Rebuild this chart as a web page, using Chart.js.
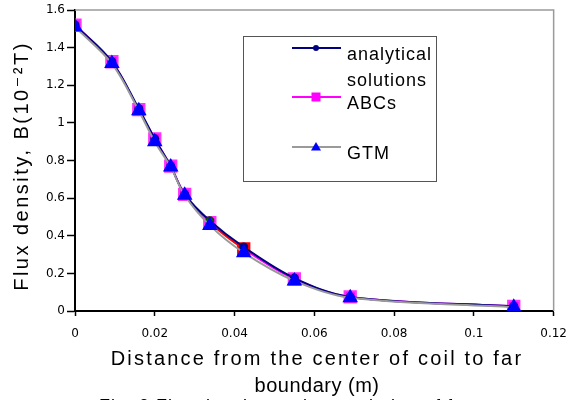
<!DOCTYPE html>
<html>
<head>
<meta charset="utf-8">
<script src="https://cdn.jsdelivr.net/npm/chart.js@4"></script>
<style>
  body { margin: 0; background: #fff; }
  #wrap { width: 578px; height: 400px; position: relative; }
</style>
</head>
<body>
<div id="wrap"><canvas id="fluxChart"></canvas></div>
<script>
// Distance from coil centre (m)
const distance = [0, 0.00925, 0.016, 0.02, 0.024, 0.0275, 0.0338, 0.0423, 0.055, 0.069, 0.11];
// Flux density B (10^-2 T)
const analytical = [1.52, 1.325, 1.075, 0.915, 0.77, 0.62, 0.48, 0.34, 0.175, 0.075, 0.025];
const abcs = [1.52, 1.325, 1.07, 0.915, 0.77, 0.62, 0.47, 0.33, 0.17, 0.075, 0.025];
const gtm = [1.51, 1.315, 1.065, 0.9, 0.765, 0.615, 0.455, 0.31, 0.16, 0.07, 0.02];

const xTicks = [0, 0.02, 0.04, 0.06, 0.08, 0.1, 0.12];
const yTicks = [0, 0.2, 0.4, 0.6, 0.8, 1, 1.2, 1.4, 1.6];

const legendItems = ['analytical solutions', 'ABCs', 'GTM'];
const xTitle = ['Distance from the center of coil to far', 'boundary (m)'];
const yTitle = 'Flux density, B(10⁻²T)';
const caption = 'Fig. 3 Flux density against variation of far';

function toPoints(ys) {
  return ys.map((y, i) => ({ x: distance[i], y: y }));
}

const FONT = '"Liberation Sans", "DejaVu Sans", sans-serif';

// frame, titles and legend drawn on the canvas
const decorations = {
  id: 'decorations',
  beforeDatasetsDraw(chart) {
    const { ctx, chartArea: a } = chart;
    ctx.save();
    ctx.strokeStyle = '#9a9a9a';
    ctx.lineWidth = 1.5;
    ctx.beginPath();
    ctx.moveTo(a.left, a.top);
    ctx.lineTo(a.right, a.top);
    ctx.lineTo(a.right, a.bottom);
    ctx.stroke();
    ctx.restore();
  },
  afterDraw(chart) {
    const { ctx } = chart;
    ctx.save();
    ctx.fillStyle = '#000';
    ctx.textAlign = 'center';
    ctx.textBaseline = 'middle';

    // axis titles
    ctx.font = '20px ' + FONT;
    ctx.letterSpacing = '2.2px';
    ctx.fillText(xTitle[0], 317, 359);
    ctx.letterSpacing = '0.5px';
    ctx.fillText(xTitle[1], 317, 386);
    ctx.font = '18px ' + FONT;
    ctx.letterSpacing = '1px';
    ctx.fillText(caption, 285, 407);

    ctx.save();
    ctx.translate(22, 166);
    ctx.rotate(-Math.PI / 2);
    ctx.font = '20px ' + FONT;
    ctx.letterSpacing = '2.5px';
    ctx.fillText(yTitle, 0, 0);
    ctx.restore();

    // legend box
    ctx.letterSpacing = '1px';
    ctx.strokeStyle = '#555';
    ctx.lineWidth = 1;
    ctx.strokeRect(243.5, 36.5, 193, 145);

    const rows = [
      { y: 48, color: '#000080', style: 'circle', fill: '#000080', r: 3, text: ['analytical', 'solutions'] },
      { y: 97, color: '#ff00ff', style: 'rect', fill: '#ff00ff', r: 6, text: [legendItems[1]] },
      { y: 147, color: '#9a9a9a', style: 'triangle', fill: '#0000ff', r: 5, text: [legendItems[2]] },
    ];
    ctx.textAlign = 'left';
    ctx.font = '18px ' + FONT;
    rows.forEach(row => {
      ctx.strokeStyle = row.color;
      ctx.lineWidth = 2;
      ctx.beginPath();
      ctx.moveTo(292, row.y);
      ctx.lineTo(341, row.y);
      ctx.stroke();
      ctx.fillStyle = row.fill;
      ctx.beginPath();
      if (row.style === 'circle') {
        ctx.arc(316, row.y, row.r, 0, Math.PI * 2);
      } else if (row.style === 'rect') {
        ctx.rect(316 - row.r * 0.75, row.y - row.r * 0.75, row.r * 1.5, row.r * 1.5);
      } else {
        ctx.moveTo(316, row.y - row.r);
        ctx.lineTo(316 + row.r, row.y + row.r * 0.7);
        ctx.lineTo(316 - row.r, row.y + row.r * 0.7);
        ctx.closePath();
      }
      ctx.fill();
      ctx.fillStyle = '#000';
      row.text.forEach((t, i) => ctx.fillText(t, 347, row.y + 7 + i * 26));
    });
    ctx.restore();
  }
};

function initializeChart() {
  const ctx = document.getElementById('fluxChart').getContext('2d');
  new Chart(ctx, {
    type: 'line',
    data: {
      datasets: [
        {
          label: legendItems[0],
          data: toPoints(analytical),
          borderColor: '#000080',
          borderWidth: 2,
          tension: 0.35,
          pointStyle: 'circle',
          pointRadius: 3.5,
          pointBackgroundColor: analytical.map((v, i) => i === 6 ? '#008000' : '#000080'),
          pointBorderColor: analytical.map((v, i) => i === 6 ? '#005000' : '#000080'),
          order: 2,
        },
        {
          label: legendItems[1],
          data: toPoints(abcs),
          borderColor: '#ff00ff',
          borderWidth: 2,
          tension: 0.35,
          pointStyle: 'rect',
          pointRadius: 8,
          pointBackgroundColor: abcs.map((v, i) => i === 7 ? '#ff0000' : '#ff00ff'),
          pointBorderColor: abcs.map((v, i) => i === 7 ? '#ff0000' : '#ff33ff'),
          segment: { borderColor: c => c.p0DataIndex === 6 ? '#ff0000' : undefined },
          order: 3,
        },
        {
          label: legendItems[2],
          data: toPoints(gtm),
          borderColor: '#9a9a9a',
          borderWidth: 2,
          tension: 0.35,
          pointStyle: 'triangle',
          pointRadius: 7,
          pointBackgroundColor: '#0000ff',
          pointBorderColor: '#0000ff',
          order: 1,
        },
      ],
    },
    options: {
      responsive: true,
      maintainAspectRatio: false,
      animation: false,
      layout: { padding: { top: 7, right: 23, left: 0, bottom: 0 } },
      plugins: { legend: { display: false }, tooltip: { enabled: false } },
      scales: {
        x: {
          type: 'linear',
          min: 0,
          max: 0.12,
          afterBuildTicks: s => { s.ticks = xTicks.map(v => ({ value: v })); },
          afterFit: s => { s.height = 89; },
          ticks: {
            color: '#000',
            font: { family: 'DejaVu Sans', size: 12 },
            padding: 11,
            maxRotation: 0,
            callback: v => String(v),
          },
          grid: { drawOnChartArea: false, color: '#000', tickLength: 5, tickWidth: 1.5 },
          border: { color: '#000', width: 2 },
        },
        y: {
          min: 0,
          max: 1.6,
          afterBuildTicks: s => { s.ticks = yTicks.map(v => ({ value: v })); },
          afterFit: s => { s.width = 75; },
          ticks: {
            color: '#000',
            font: { family: 'DejaVu Sans', size: 12 },
            padding: 2,
            callback: v => String(v),
          },
          grid: { drawOnChartArea: false, color: '#000', tickLength: 8, tickWidth: 1.5 },
          border: { color: '#000', width: 2 },
        },
      },
    },
    plugins: [decorations],
  });
}

document.addEventListener('DOMContentLoaded', initializeChart);
</script>
</body>
</html>
